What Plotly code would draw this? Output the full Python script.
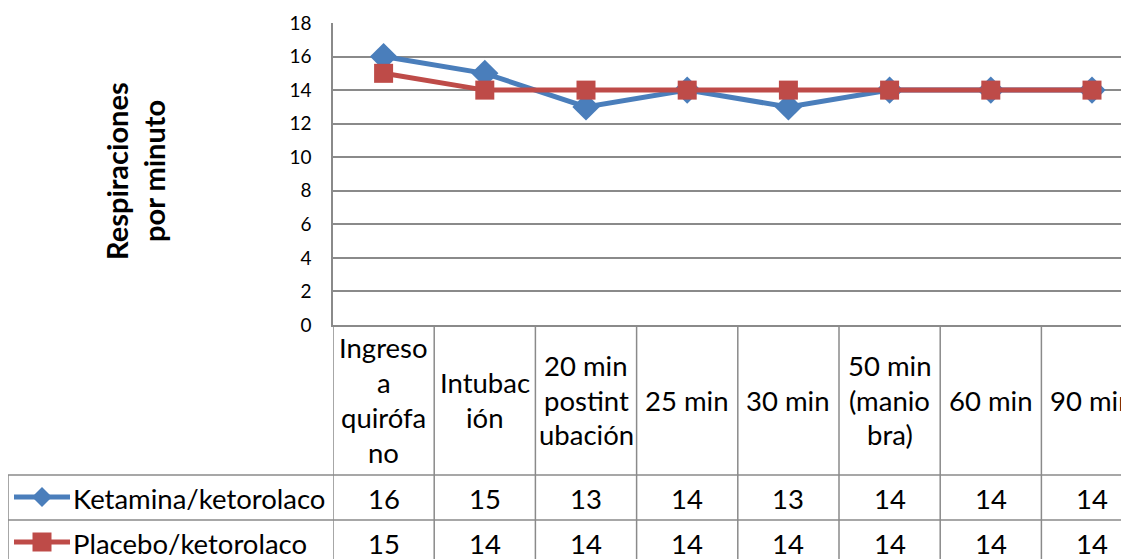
import plotly.graph_objects as go

categories = ["Ingreso<br>a<br>quirófa<br>no", "Intubac<br>ión", "20 min<br>postint<br>ubación",
              "25 min", "30 min", "50 min<br>(manio<br>bra)", "60 min", "90 min"]
series_names = ["Ketamina/ketorolaco", "Placebo/ketorolaco"]
ketamina = [16, 15, 13, 14, 13, 14, 14, 14]
placebo = [15, 14, 14, 14, 14, 14, 14, 14]
y_ticks = [0, 2, 4, 6, 8, 10, 12, 14, 16, 18]

OFF = 8  # default page body margin
W, H = 1129 - OFF, 559 - OFF
L, T, B = 333, 23, 325          # page pixel coordinates
PW, PH = 1129 - L, B - T
CW = 101.2
FONT = "Lato"
GRID = "#8a8a8a"
BLUE = "#4A7EBB"
RED = "#BE4B48"
TXT = 27.5


def px(x):
    return (x - L) / PW


def py(y):
    return (B - y) / PH


x_idx = list(range(len(categories)))
fig = go.Figure()
fig.add_trace(go.Scatter(x=x_idx, y=ketamina, mode="lines+markers", name=series_names[0],
                         line=dict(color=BLUE, width=5),
                         marker=dict(symbol="diamond", size=21, color=BLUE)))
fig.add_trace(go.Scatter(x=x_idx, y=placebo, mode="lines+markers", name=series_names[1],
                         line=dict(color=RED, width=5),
                         marker=dict(symbol="square", size=19, color=RED)))

shapes = []
annotations = []

# table header row text
hdr_c = 400
for i, cat in enumerate(categories):
    lines = cat.split("<br>")
    n = len(lines)
    for k, t in enumerate(lines):
        yy = hdr_c + (k - (n - 1) / 2) * 35
        annotations.append(dict(x=i, xref="x", y=py(yy), yref="paper", text=t, showarrow=False,
                                font=dict(family=FONT, size=TXT, color="black"),
                                xanchor="center", yanchor="middle"))

rows_y = [498, 543]
for r, vals in enumerate([ketamina, placebo]):
    for i, v in enumerate(vals):
        annotations.append(dict(x=i, xref="x", y=py(rows_y[r]), yref="paper", text=str(v),
                                showarrow=False, font=dict(family=FONT, size=TXT, color="black"),
                                xanchor="center", yanchor="middle"))
    annotations.append(dict(x=px(71), xref="paper", y=py(rows_y[r]), yref="paper",
                            text=series_names[r], showarrow=False,
                            font=dict(family=FONT, size=TXT, color="black"),
                            xanchor="left", yanchor="middle"))

# legend keys
for r, col in enumerate([BLUE, RED]):
    yk = rows_y[r] - 1
    shapes.append(dict(type="line", xref="paper", yref="paper", x0=px(14), x1=px(70),
                       y0=py(yk), y1=py(yk), line=dict(color=col, width=5)))
    cx = 42
    if r == 0:
        d = 10
        path = (f"M {px(cx - d)} {py(yk)} L {px(cx)} {py(yk - d)} L {px(cx + d)} {py(yk)} "
                f"L {px(cx)} {py(yk + d)} Z")
        shapes.append(dict(type="path", xref="paper", yref="paper", path=path,
                           fillcolor=col, line=dict(color=col, width=0)))
    else:
        d = 9.5
        shapes.append(dict(type="rect", xref="paper", yref="paper", x0=px(cx - d), x1=px(cx + d),
                           y0=py(yk - d), y1=py(yk + d), fillcolor=col, line=dict(width=0)))

# table grid lines
for yy in [475, 520]:
    shapes.append(dict(type="line", xref="paper", yref="paper", x0=px(8), x1=1.0,
                       y0=py(yy), y1=py(yy), line=dict(color=GRID, width=1.5)))
shapes.append(dict(type="line", xref="paper", yref="paper", x0=px(8), x1=px(8),
                   y0=py(475), y1=py(565), line=dict(color=GRID, width=1.5)))
for k in range(len(categories) + 1):
    xb = k - 0.5
    shapes.append(dict(type="line", xref="x", yref="paper", x0=xb, x1=xb,
                       y0=py(B), y1=py(565), line=dict(color=GRID, width=1.5)))

# y-axis title (two lines)
for t, xx in [("Respiraciones", 117), ("por minuto", 154)]:
    annotations.append(dict(x=px(xx), xref="paper", y=py(171), yref="paper", text=f"<b>{t}</b>",
                            showarrow=False, textangle=-90,
                            font=dict(family=FONT, size=29, color="black"),
                            xanchor="center", yanchor="middle"))

fig.update_layout(
    width=W, height=H,
    margin=dict(l=L - OFF, r=0, t=T - OFF, b=(559 - OFF) - (B - OFF), pad=0),
    paper_bgcolor="white", plot_bgcolor="white",
    showlegend=False,
    shapes=shapes, annotations=annotations,
    xaxis=dict(range=[-0.5, -0.5 + PW / CW], showticklabels=False, showgrid=False,
               zeroline=False, showline=True, linecolor=GRID, linewidth=1.5, ticks="",
               fixedrange=True),
    yaxis=dict(range=[0, 18], tickvals=y_ticks, showgrid=True, gridcolor=GRID, gridwidth=1.5,
               zeroline=False, showline=True, linecolor=GRID, linewidth=1.5,
               ticks="", ticklabelstandoff=16,
               tickfont=dict(family=FONT, size=19, color="black"), fixedrange=True),
)
fig.write_html("out.html")
